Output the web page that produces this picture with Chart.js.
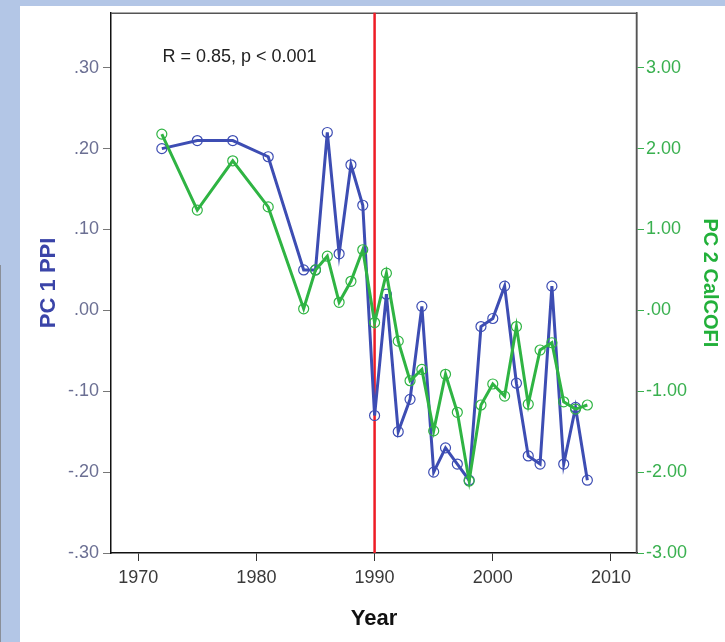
<!DOCTYPE html>
<html>
<head>
<meta charset="utf-8">
<script src="https://cdn.jsdelivr.net/npm/chart.js@4.4.1/dist/chart.umd.min.js"></script>
<style>
  html, body { margin: 0; padding: 0; }
  body { width: 725px; height: 642px; background: #b3c6e6; position: relative; overflow: hidden; }
  #panel { position: absolute; left: 20px; top: 6px; width: 705px; height: 636px; background: #ffffff; overflow: hidden; }
  #edge { position: absolute; left: 0px; top: 265px; width: 1px; height: 377px; background: #8a8f99; }
  canvas { display: block; position: absolute; left: 0; top: -8px; }
</style>
</head>
<body>
<div id="edge"></div>
<div id="panel"><canvas id="c" width="705" height="644"></canvas></div>
<script>
// ---- data ----
const years = [1972, 1975, 1978, 1981, 1984, 1985, 1986, 1987, 1988, 1989,
               1990, 1991, 1992, 1993, 1994, 1995, 1996, 1997, 1998, 1999,
               2000, 2001, 2002, 2003, 2004, 2005, 2006, 2007, 2008];
const pc1PPI = [0.20, 0.21, 0.21, 0.19, 0.05, 0.05, 0.22, 0.07, 0.18, 0.13,
                -0.13, 0.02, -0.15, -0.11, 0.005, -0.20, -0.17, -0.19, -0.21, -0.02,
                -0.01, 0.03, -0.09, -0.18, -0.19, 0.03, -0.19, -0.12, -0.21];
const pc2CalCOFI = [2.18, 1.24, 1.85, 1.28, 0.02, 0.50, 0.67, 0.10, 0.36, 0.75,
                    -0.15, 0.46, -0.38, -0.87, -0.73, -1.49, -0.79, -1.26, -2.11, -1.17,
                    -0.91, -1.06, -0.20, -1.16, -0.49, -0.40, -1.13, -1.22, -1.17];
const xTickValues = [1970, 1980, 1990, 2000, 2010];
const leftTickValues = [-0.3, -0.2, -0.1, 0, 0.1, 0.2, 0.3];
const leftTickLabels = ['-.30', '-.20', '-.10', '.00', '.10', '.20', '.30'];
const rightTickValues = [-3, -2, -1, 0, 1, 2, 3];
const rightTickLabels = ['-3.00', '-2.00', '-1.00', '.00', '1.00', '2.00', '3.00'];
const breakYear = [1990];
const annotationText = 'R = 0.85, p < 0.001';

// ---- styling ----
const BLUE = '#3d4db3';
const GREEN = '#2fb443';
const TICK_FONT = { family: '"Liberation Sans", Arial, sans-serif', size: 18 };

const frameAndMarks = {
  id: 'frameAndMarks',
  beforeDatasetsDraw(chart) {
    const { ctx, chartArea: a, scales } = chart;
    ctx.save();
    ctx.strokeStyle = '#555555';
    ctx.lineWidth = 1.5;
    ctx.beginPath();
    ctx.moveTo(a.left, a.top + 0.5);
    ctx.lineTo(a.right - 0.5, a.top + 0.5);
    ctx.lineTo(a.right - 0.5, a.bottom);
    ctx.stroke();
    ctx.strokeStyle = '#ee1c25';
    ctx.lineWidth = 2.5;
    breakYear.forEach(yr => {
      const x = scales.x.getPixelForValue(yr);
      ctx.beginPath();
      ctx.moveTo(x, a.top);
      ctx.lineTo(x, a.bottom);
      ctx.stroke();
    });
    ctx.fillStyle = '#222222';
    ctx.font = '18px "Liberation Sans", Arial, sans-serif';
    ctx.textBaseline = 'middle';
    ctx.textAlign = 'left';
    ctx.fillText(annotationText, scales.x.getPixelForValue(1972.05), scales.y.getPixelForValue(0.313));
    ctx.restore();
  }
};

new Chart(document.getElementById('c'), {
  type: 'line',
  data: {
    datasets: [
      {
        label: 'PC 1 PPI',
        data: years.map((yr, i) => ({ x: yr, y: pc1PPI[i] })),
        yAxisID: 'y',
        borderColor: BLUE,
        borderWidth: 3,
        pointRadius: 5,
        pointBorderWidth: 1.2,
        pointBorderColor: BLUE,
        pointBackgroundColor: 'rgba(0,0,0,0)',
        tension: 0,
        order: 2
      },
      {
        label: 'PC 2 CalCOFI',
        data: years.map((yr, i) => ({ x: yr, y: pc2CalCOFI[i] })),
        yAxisID: 'y1',
        borderColor: GREEN,
        borderWidth: 3,
        pointRadius: 5,
        pointBorderWidth: 1.2,
        pointBorderColor: GREEN,
        pointBackgroundColor: 'rgba(0,0,0,0)',
        tension: 0,
        order: 1
      }
    ]
  },
  options: {
    responsive: false,
    animation: false,
    layout: { padding: { top: 6, left: 0, right: 0, bottom: 0 } },
    plugins: { legend: { display: false }, tooltip: { enabled: false } },
    scales: {
      x: {
        type: 'linear',
        position: 'bottom',
        min: 1967.7,
        max: 2012.2,
        afterBuildTicks: s => { s.ticks = xTickValues.map(v => ({ value: v })); },
        afterFit: s => { s.height = 89; },
        ticks: { font: TICK_FONT, color: '#3a3a3a', padding: 6, maxRotation: 0, callback: v => String(v) },
        grid: { display: true, drawOnChartArea: false, drawTicks: true, tickLength: 8, color: '#333333', lineWidth: 1 },
        border: { display: true, color: '#111111', width: 1.5 },
        title: { display: true, text: 'Year', color: '#111111', font: { family: '"Liberation Sans", Arial, sans-serif', size: 22, weight: 'bold' }, padding: { top: 0, bottom: 10 } }
      },
      y: {
        type: 'linear',
        position: 'left',
        min: -0.30,
        max: 0.368,
        afterBuildTicks: s => { s.ticks = leftTickValues.map(v => ({ value: v })); },
        afterFit: s => { s.width = 91; },
        ticks: { font: TICK_FONT, color: '#6b6f93', padding: 4, callback: (v, i) => leftTickLabels[i] },
        grid: { display: true, drawOnChartArea: false, drawTicks: true, tickLength: 8, color: '#777777', lineWidth: 1 },
        border: { display: true, color: '#111111', width: 1.5 },
        title: { display: true, text: 'PC 1 PPI', color: '#3a44a8', font: { family: '"Liberation Sans", Arial, sans-serif', size: 22, weight: 'bold' }, padding: { top: 16, bottom: 0 } }
      },
      y1: {
        type: 'linear',
        position: 'right',
        min: -3.0,
        max: 3.68,
        afterBuildTicks: s => { s.ticks = rightTickValues.map(v => ({ value: v })); },
        afterFit: s => { s.width = 88; },
        ticks: { font: TICK_FONT, color: '#39b04f', padding: 2, callback: (v, i) => rightTickLabels[i] },
        grid: { display: true, drawOnChartArea: false, drawTicks: true, tickLength: 7, color: '#39b04f', lineWidth: 1 },
        border: { display: true, color: '#555555', width: 1.5 },
        title: { display: true, text: 'PC 2 CalCOFI', color: '#22b03a', font: { family: '"Liberation Sans", Arial, sans-serif', size: 20, weight: 'bold' }, padding: { top: 3, bottom: 0 } }
      }
    }
  },
  plugins: [frameAndMarks]
});
</script>
</body>
</html>
